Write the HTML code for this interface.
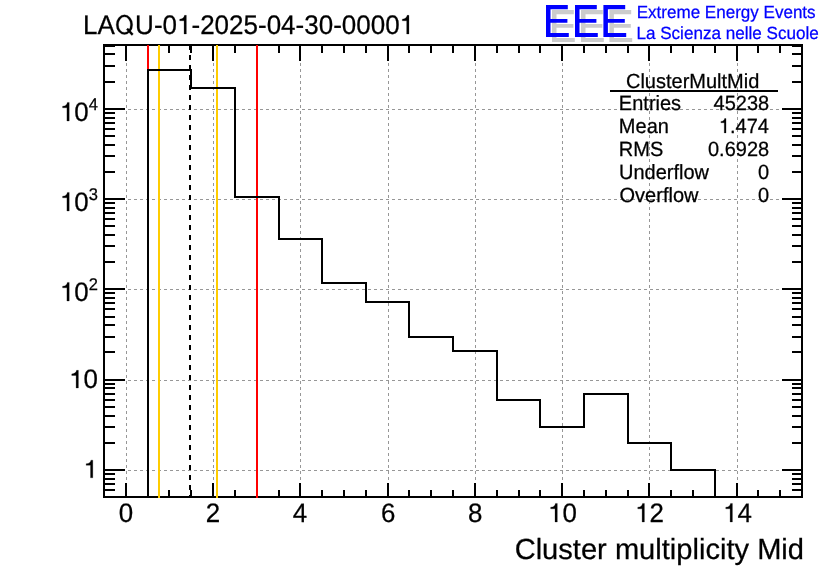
<!DOCTYPE html>
<html><head><meta charset="utf-8"><style>
html,body{margin:0;padding:0;background:#fff;}
svg{display:block;will-change:transform;}
text{font-family:"Liberation Sans",sans-serif;text-rendering:geometricPrecision;}
.t{stroke-width:0.25px;}
</style></head><body>
<svg width="836" height="572" viewBox="0 0 836 572">
<rect width="836" height="572" fill="#fff"/>
<line x1="126.5" y1="45" x2="126.5" y2="497" stroke="#979797" stroke-width="1" stroke-dasharray="3 3"/>
<line x1="213.5" y1="45" x2="213.5" y2="497" stroke="#979797" stroke-width="1" stroke-dasharray="3 3"/>
<line x1="300.5" y1="45" x2="300.5" y2="497" stroke="#979797" stroke-width="1" stroke-dasharray="3 3"/>
<line x1="388.5" y1="45" x2="388.5" y2="497" stroke="#979797" stroke-width="1" stroke-dasharray="3 3"/>
<line x1="475.5" y1="45" x2="475.5" y2="497" stroke="#979797" stroke-width="1" stroke-dasharray="3 3"/>
<line x1="562.5" y1="45" x2="562.5" y2="497" stroke="#979797" stroke-width="1" stroke-dasharray="3 3"/>
<line x1="649.5" y1="45" x2="649.5" y2="497" stroke="#979797" stroke-width="1" stroke-dasharray="3 3"/>
<line x1="737.5" y1="45" x2="737.5" y2="497" stroke="#979797" stroke-width="1" stroke-dasharray="3 3"/>
<line x1="104" y1="470.5" x2="802" y2="470.5" stroke="#979797" stroke-width="1" stroke-dasharray="3 3"/>
<line x1="104" y1="380.5" x2="802" y2="380.5" stroke="#979797" stroke-width="1" stroke-dasharray="3 3"/>
<line x1="104" y1="289.5" x2="802" y2="289.5" stroke="#979797" stroke-width="1" stroke-dasharray="3 3"/>
<line x1="104" y1="199.5" x2="802" y2="199.5" stroke="#979797" stroke-width="1" stroke-dasharray="3 3"/>
<line x1="104" y1="109.5" x2="802" y2="109.5" stroke="#979797" stroke-width="1" stroke-dasharray="3 3"/>
<path d="M103,44h700v2h-700zM103,496h700v2h-700zM103,44h2v454h-2zM801,44h2v454h-2zM125,483h2v13h-2zM125,46h2v15h-2zM147,490h2v6h-2zM147,46h2v7h-2zM168,490h2v6h-2zM168,46h2v7h-2zM190,490h2v6h-2zM190,46h2v7h-2zM212,483h2v13h-2zM212,46h2v15h-2zM234,490h2v6h-2zM234,46h2v7h-2zM256,490h2v6h-2zM256,46h2v7h-2zM278,490h2v6h-2zM278,46h2v7h-2zM299,483h2v13h-2zM299,46h2v15h-2zM321,490h2v6h-2zM321,46h2v7h-2zM343,490h2v6h-2zM343,46h2v7h-2zM365,490h2v6h-2zM365,46h2v7h-2zM387,483h2v13h-2zM387,46h2v15h-2zM408,490h2v6h-2zM408,46h2v7h-2zM430,490h2v6h-2zM430,46h2v7h-2zM452,490h2v6h-2zM452,46h2v7h-2zM474,483h2v13h-2zM474,46h2v15h-2zM496,490h2v6h-2zM496,46h2v7h-2zM518,490h2v6h-2zM518,46h2v7h-2zM539,490h2v6h-2zM539,46h2v7h-2zM561,483h2v13h-2zM561,46h2v15h-2zM583,490h2v6h-2zM583,46h2v7h-2zM605,490h2v6h-2zM605,46h2v7h-2zM627,490h2v6h-2zM627,46h2v7h-2zM648,483h2v13h-2zM648,46h2v15h-2zM670,490h2v6h-2zM670,46h2v7h-2zM692,490h2v6h-2zM692,46h2v7h-2zM714,490h2v6h-2zM714,46h2v7h-2zM736,483h2v13h-2zM736,46h2v15h-2zM757,490h2v6h-2zM757,46h2v7h-2zM779,490h2v6h-2zM779,46h2v7h-2zM105,496h10v2h-10zM792,496h9v2h-9zM105,489h10v2h-10zM792,489h9v2h-9zM105,483h10v2h-10zM792,483h9v2h-9zM105,478h10v2h-10zM792,478h9v2h-9zM105,473h10v2h-10zM792,473h9v2h-9zM105,469h20v2h-20zM782,469h19v2h-19zM105,442h10v2h-10zM792,442h9v2h-9zM105,426h10v2h-10zM792,426h9v2h-9zM105,415h10v2h-10zM792,415h9v2h-9zM105,406h10v2h-10zM792,406h9v2h-9zM105,399h10v2h-10zM792,399h9v2h-9zM105,393h10v2h-10zM792,393h9v2h-9zM105,387h10v2h-10zM792,387h9v2h-9zM105,383h10v2h-10zM792,383h9v2h-9zM105,379h20v2h-20zM782,379h19v2h-19zM105,351h10v2h-10zM792,351h9v2h-9zM105,336h10v2h-10zM792,336h9v2h-9zM105,324h10v2h-10zM792,324h9v2h-9zM105,316h10v2h-10zM792,316h9v2h-9zM105,308h10v2h-10zM792,308h9v2h-9zM105,302h10v2h-10zM792,302h9v2h-9zM105,297h10v2h-10zM792,297h9v2h-9zM105,292h10v2h-10zM792,292h9v2h-9zM105,288h20v2h-20zM782,288h19v2h-19zM105,261h10v2h-10zM792,261h9v2h-9zM105,245h10v2h-10zM792,245h9v2h-9zM105,234h10v2h-10zM792,234h9v2h-9zM105,225h10v2h-10zM792,225h9v2h-9zM105,218h10v2h-10zM792,218h9v2h-9zM105,212h10v2h-10zM792,212h9v2h-9zM105,207h10v2h-10zM792,207h9v2h-9zM105,202h10v2h-10zM792,202h9v2h-9zM105,198h20v2h-20zM782,198h19v2h-19zM105,171h10v2h-10zM792,171h9v2h-9zM105,155h10v2h-10zM792,155h9v2h-9zM105,144h10v2h-10zM792,144h9v2h-9zM105,135h10v2h-10zM792,135h9v2h-9zM105,128h10v2h-10zM792,128h9v2h-9zM105,122h10v2h-10zM792,122h9v2h-9zM105,117h10v2h-10zM792,117h9v2h-9zM105,112h10v2h-10zM792,112h9v2h-9zM105,108h20v2h-20zM782,108h19v2h-19zM105,81h10v2h-10zM792,81h9v2h-9zM105,65h10v2h-10zM792,65h9v2h-9zM105,53h10v2h-10zM792,53h9v2h-9zM105,45h10v2h-10zM792,45h9v2h-9z" fill="#000"/>
<line x1="148" y1="45" x2="148" y2="498" stroke="#ff0000" stroke-width="2"/>
<line x1="257" y1="45" x2="257" y2="498" stroke="#ff0000" stroke-width="2"/>
<line x1="159" y1="45" x2="159" y2="498" stroke="#ffcc00" stroke-width="2"/>
<line x1="217" y1="45" x2="217" y2="498" stroke="#ffcc00" stroke-width="2"/>
<line x1="190" y1="45" x2="190" y2="498" stroke="#000" stroke-width="2" stroke-dasharray="5 5"/>
<path d="M148,497V70H191V88H235V197H279V239H322V283H366V302H409V337H453V351H497V400H540V427H584V394H628V443H671V470H715V497" fill="none" stroke="#000" stroke-width="2" stroke-linejoin="miter" stroke-linecap="square"/>
<g transform="translate(83.10,34.00) scale(1,1.03)"><text x="0.00" y="0.00" font-size="26.0" fill="#000" stroke="#000" class="t">LA</text><path d="M50,-359A317,378 0 1,1 684,-359A317,378 0 1,1 50,-359ZM138,-359A229,300 0 1,0 596,-359A229,300 0 1,0 138,-359ZM439,-172L501,-228L711,2L649,58Z" transform="translate(31.80,0.00) scale(0.02600,0.02524)" fill="#000" stroke="#000" class="t" vector-effect="non-scaling-stroke"/><text x="52.03" y="0.00" font-size="26.0" fill="#000" stroke="#000" class="t">U-0</text><path d="M359,0L359,-718L288,-718C273,-628 216,-577 103,-572L103,-508L271,-508L271,0Z" transform="translate(93.92,0.00) scale(0.02600,0.02524)" fill="#000" stroke="#000" class="t" vector-effect="non-scaling-stroke"/><text x="108.38" y="0.00" font-size="26.0" fill="#000" stroke="#000" class="t">-2025-04-30-0000</text><path d="M359,0L359,-718L288,-718C273,-628 216,-577 103,-572L103,-508L271,-508L271,0Z" transform="translate(316.53,0.00) scale(0.02600,0.02524)" fill="#000" stroke="#000" class="t" vector-effect="non-scaling-stroke"/></g>
<g transform="translate(118.80,522.00) scale(1,1.03)"><text x="0.00" y="0.00" font-size="25.9" fill="#000" stroke="#000" class="t">0</text></g>
<g transform="translate(205.75,522.00) scale(1,1.03)"><text x="0.00" y="0.00" font-size="25.9" fill="#000" stroke="#000" class="t">2</text></g>
<g transform="translate(292.85,522.00) scale(1,1.03)"><text x="0.00" y="0.00" font-size="25.9" fill="#000" stroke="#000" class="t">4</text></g>
<g transform="translate(380.90,522.00) scale(1,1.03)"><text x="0.00" y="0.00" font-size="25.9" fill="#000" stroke="#000" class="t">6</text></g>
<g transform="translate(468.10,522.00) scale(1,1.03)"><text x="0.00" y="0.00" font-size="25.9" fill="#000" stroke="#000" class="t">8</text></g>
<g transform="translate(548.00,522.00) scale(1,1.03)"><path d="M359,0L359,-718L288,-718C273,-628 216,-577 103,-572L103,-508L271,-508L271,0Z" transform="translate(0.00,0.00) scale(0.02590,0.02515)" fill="#000" stroke="#000" class="t" vector-effect="non-scaling-stroke"/><text x="14.40" y="0.00" font-size="25.9" fill="#000" stroke="#000" class="t">0</text></g>
<g transform="translate(635.10,522.00) scale(1,1.03)"><path d="M359,0L359,-718L288,-718C273,-628 216,-577 103,-572L103,-508L271,-508L271,0Z" transform="translate(0.00,0.00) scale(0.02590,0.02515)" fill="#000" stroke="#000" class="t" vector-effect="non-scaling-stroke"/><text x="14.40" y="0.00" font-size="25.9" fill="#000" stroke="#000" class="t">2</text></g>
<g transform="translate(723.10,522.00) scale(1,1.03)"><path d="M359,0L359,-718L288,-718C273,-628 216,-577 103,-572L103,-508L271,-508L271,0Z" transform="translate(0.00,0.00) scale(0.02590,0.02515)" fill="#000" stroke="#000" class="t" vector-effect="non-scaling-stroke"/><text x="14.40" y="0.00" font-size="25.9" fill="#000" stroke="#000" class="t">4</text></g>
<g transform="translate(83.50,477.80) scale(1,1.03)"><path d="M359,0L359,-718L288,-718C273,-628 216,-577 103,-572L103,-508L271,-508L271,0Z" transform="translate(0.00,0.00) scale(0.02590,0.02389)" fill="#000" stroke="#000" class="t" vector-effect="non-scaling-stroke"/></g>
<g transform="translate(69.09,388.00) scale(1,1.03)"><path d="M359,0L359,-718L288,-718C273,-628 216,-577 103,-572L103,-508L271,-508L271,0Z" transform="translate(0.00,0.00) scale(0.02590,0.02389)" fill="#000" stroke="#000" class="t" vector-effect="non-scaling-stroke"/><text x="14.40" y="0.00" font-size="25.9" fill="#000" stroke="#000" class="t">0</text></g>
<g transform="translate(59.91,301.0) scale(1,1.03)"><path d="M359,0L359,-718L288,-718C273,-628 216,-577 103,-572L103,-508L271,-508L271,0Z" transform="translate(0.00,0.00) scale(0.02590,0.02515)" fill="#000" stroke="#000" class="t" vector-effect="non-scaling-stroke"/><text x="14.40" y="0.00" font-size="25.9" fill="#000" stroke="#000" class="t">0</text><text x="28.81" y="-11.00" font-size="16.5" fill="#000" stroke="#000" class="t">2</text></g>
<g transform="translate(59.91,211.0) scale(1,1.03)"><path d="M359,0L359,-718L288,-718C273,-628 216,-577 103,-572L103,-508L271,-508L271,0Z" transform="translate(0.00,0.00) scale(0.02590,0.02515)" fill="#000" stroke="#000" class="t" vector-effect="non-scaling-stroke"/><text x="14.40" y="0.00" font-size="25.9" fill="#000" stroke="#000" class="t">0</text><text x="28.81" y="-11.00" font-size="16.5" fill="#000" stroke="#000" class="t">3</text></g>
<g transform="translate(59.91,121.0) scale(1,1.03)"><path d="M359,0L359,-718L288,-718C273,-628 216,-577 103,-572L103,-508L271,-508L271,0Z" transform="translate(0.00,0.00) scale(0.02590,0.02515)" fill="#000" stroke="#000" class="t" vector-effect="non-scaling-stroke"/><text x="14.40" y="0.00" font-size="25.9" fill="#000" stroke="#000" class="t">0</text><text x="28.81" y="-11.00" font-size="16.5" fill="#000" stroke="#000" class="t">4</text></g>
<g transform="translate(514.64,558.80) scale(1,1.0)"><text x="0.00" y="0.00" font-size="29.1" fill="#000" stroke="#000" class="t">Cluster multiplicity Mid</text></g>
<g transform="translate(625.98,88.00) scale(1,1.02)"><text x="0.00" y="0.00" font-size="20.0" fill="#000" stroke="#000" class="t">ClusterMultMid</text></g>
<rect x="610" y="90" width="168" height="2" fill="#000"/>
<g transform="translate(618.86,110.00) scale(1,1.03)"><text x="0.00" y="0.00" font-size="20.0" fill="#000" stroke="#000" class="t">Entries</text></g>
<g transform="translate(713.55,110.00) scale(1,1.03)"><text x="0.00" y="0.00" font-size="20.0" fill="#000" stroke="#000" class="t">45238</text></g>
<g transform="translate(618.86,132.90) scale(1,1.03)"><text x="0.00" y="0.00" font-size="20.0" fill="#000" stroke="#000" class="t">Mean</text></g>
<g transform="translate(718.84,132.90) scale(1,1.03)"><path d="M359,0L359,-718L288,-718C273,-628 216,-577 103,-572L103,-508L271,-508L271,0Z" transform="translate(0.00,0.00) scale(0.02000,0.01942)" fill="#000" stroke="#000" class="t" vector-effect="non-scaling-stroke"/><text x="11.12" y="0.00" font-size="20.0" fill="#000" stroke="#000" class="t">.474</text></g>
<g transform="translate(618.86,155.80) scale(1,1.03)"><text x="0.00" y="0.00" font-size="20.0" fill="#000" stroke="#000" class="t">RMS</text></g>
<g transform="translate(708.00,155.80) scale(1,1.03)"><text x="0.00" y="0.00" font-size="20.0" fill="#000" stroke="#000" class="t">0.6928</text></g>
<g transform="translate(618.96,178.70) scale(1,1.03)"><text x="0.00" y="0.00" font-size="20.0" fill="#000" stroke="#000" class="t">Underflow</text></g>
<g transform="translate(757.96,178.70) scale(1,1.03)"><text x="0.00" y="0.00" font-size="20.0" fill="#000" stroke="#000" class="t">0</text></g>
<g transform="translate(619.55,201.60) scale(1,1.03)"><text x="0.00" y="0.00" font-size="20.0" fill="#000" stroke="#000" class="t">Overflow</text></g>
<g transform="translate(757.96,201.60) scale(1,1.03)"><text x="0.00" y="0.00" font-size="20.0" fill="#000" stroke="#000" class="t">0</text></g>
<path d="M552,10h21.8v4.3h-17.3v9.7h16.9v3.8h-16.9v10.1h18.3v4h-22.8z" fill="#cccccc"/>
<path d="M581,10h21.8v4.3h-17.3v9.7h16.9v3.8h-16.9v10.1h18.3v4h-22.8z" fill="#cccccc"/>
<path d="M609.4,10h21.8v4.3h-17.3v9.7h16.9v3.8h-16.9v10.1h18.3v4h-22.8z" fill="#cccccc"/>
<path d="M546,5h21.8v4.3h-17.3v9.7h16.9v3.8h-16.9v10.1h18.3v4h-22.8z" fill="#0000ff"/>
<path d="M575,5h21.8v4.3h-17.3v9.7h16.9v3.8h-16.9v10.1h18.3v4h-22.8z" fill="#0000ff"/>
<path d="M603.4,5h21.8v4.3h-17.3v9.7h16.9v3.8h-16.9v10.1h18.3v4h-22.8z" fill="#0000ff"/>
<g transform="translate(636.70,17.60) scale(1,1.03)"><text x="0.00" y="0.00" font-size="17.05" fill="#0000ff" stroke="#0000ff" class="t">Extreme Energy Events</text></g>
<g transform="translate(636.40,38.60) scale(1,1.03)"><text x="0.00" y="0.00" font-size="17.1" fill="#0000ff" stroke="#0000ff" class="t">La Scienza nelle Scuole</text></g>
</svg></body></html>
